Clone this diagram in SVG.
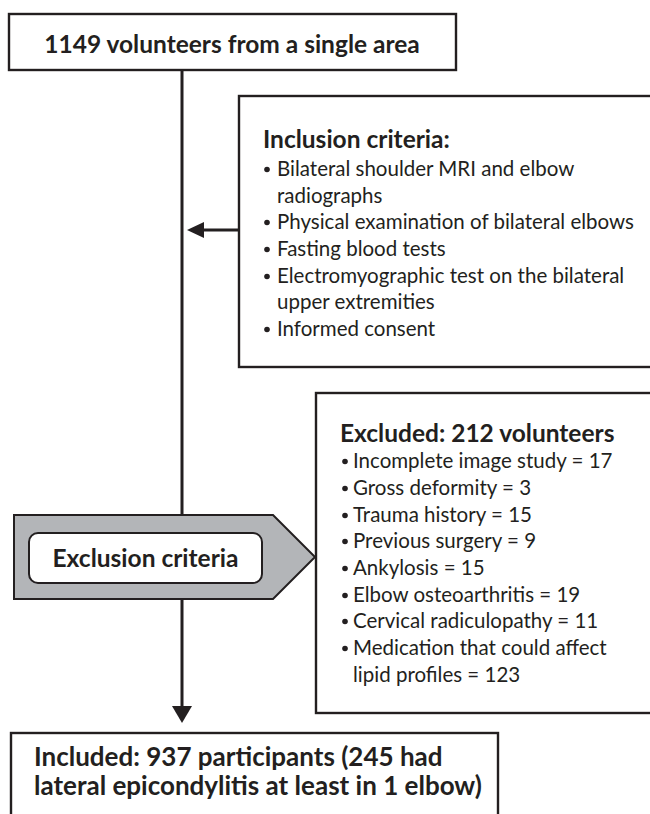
<svg xmlns="http://www.w3.org/2000/svg" width="650" height="814" viewBox="0 0 650 814">
<style>
.box{fill:#fff;stroke:#231f20;stroke-width:2.4}
.h{font-family:Lato,"Liberation Sans",sans-serif;font-weight:bold;font-size:24.5px;fill:#231f20}
.hb{font-family:Lato,"Liberation Sans",sans-serif;font-weight:bold;font-size:26px;fill:#231f20}
.t{font-family:Lato,"Liberation Sans",sans-serif;font-size:20.5px;fill:#231f20}
.b{fill:#231f20}
.ln{stroke:#231f20;stroke-width:3;fill:none}
</style>
<rect width="650" height="814" fill="#fff"/>
<g id="connectors">
<line class="ln" x1="182" y1="70" x2="182" y2="708"/>
<path d="M172,706 L192,706 L182,723 Z" fill="#231f20"/>
<line class="ln" x1="239" y1="230" x2="200" y2="230"/>
<path d="M204,222 L204,238 L187,230 Z" fill="#231f20"/>
</g>
<g id="start">
<rect class="box" x="9" y="14" width="447" height="56"/>
<text class="h" x="232" y="53" text-anchor="middle">1149 volunteers from a single area</text>
</g>
<g id="inclusion">
<rect class="box" x="239" y="96" width="430" height="271"/>
<text class="h" x="263" y="148">Inclusion criteria:</text>
<g class="b">
<circle cx="267" cy="169.5" r="2.8"/><circle cx="267" cy="222.5" r="2.8"/><circle cx="267" cy="249.5" r="2.8"/><circle cx="267" cy="276.5" r="2.8"/><circle cx="267" cy="329.5" r="2.8"/>
</g>
<text class="t" x="277" y="176">Bilateral shoulder MRI and elbow</text>
<text class="t" x="277" y="203">radiographs</text>
<text class="t" x="277" y="229">Physical examination of bilateral elbows</text>
<text class="t" x="277" y="256">Fasting blood tests</text>
<text class="t" x="277" y="283">Electromyographic test on the bilateral</text>
<text class="t" x="277" y="309">upper extremities</text>
<text class="t" x="277" y="336">Informed consent</text>
</g>
<g id="exclusion">
<path d="M14,515 L273,515 L315,557 L273,599 L14,599 Z" fill="#b3b5b8" stroke="#231f20" stroke-width="2"/>
<rect x="29" y="533" width="233" height="50" rx="9" fill="#fff" stroke="#231f20" stroke-width="2"/>
<text class="h" x="145.5" y="567" text-anchor="middle">Exclusion criteria</text>
</g>
<g id="excluded">
<rect class="box" x="316" y="393" width="360" height="320"/>
<text class="h" x="340" y="442">Excluded: 212 volunteers</text>
<g class="b">
<circle cx="345" cy="461.5" r="2.8"/><circle cx="345" cy="488.5" r="2.8"/><circle cx="345" cy="515.5" r="2.8"/><circle cx="345" cy="541.5" r="2.8"/><circle cx="345" cy="568.5" r="2.8"/><circle cx="345" cy="595.5" r="2.8"/><circle cx="345" cy="621.5" r="2.8"/><circle cx="345" cy="648.5" r="2.8"/>
</g>
<text class="t" x="353" y="468">Incomplete image study = 17</text>
<text class="t" x="353" y="495">Gross deformity = 3</text>
<text class="t" x="353" y="522">Trauma history = 15</text>
<text class="t" x="353" y="548">Previous surgery = 9</text>
<text class="t" x="353" y="575">Ankylosis = 15</text>
<text class="t" x="353" y="602">Elbow osteoarthritis = 19</text>
<text class="t" x="353" y="628">Cervical radiculopathy = 11</text>
<text class="t" x="353" y="655">Medication that could affect</text>
<text class="t" x="353" y="682">lipid profiles = 123</text>
</g>
<g id="included">
<rect class="box" x="11" y="733" width="487" height="100"/>
<text class="hb" x="34" y="766">Included: 937 participants (245 had</text>
<text class="hb" x="34" y="795">lateral epicondylitis at least in 1 elbow)</text>
</g>
</svg>
